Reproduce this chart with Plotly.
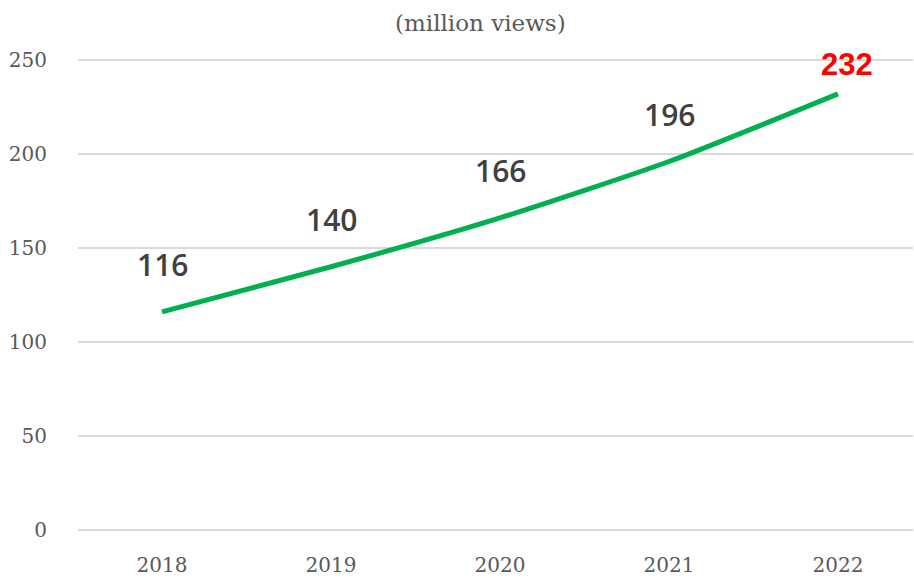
import plotly.graph_objects as go

years = ["2018", "2019", "2020", "2021", "2022"]
views = [116, 140, 166, 196, 232]
y_ticks = [0, 50, 100, 150, 200, 250]

xi = list(range(len(years)))

fig = go.Figure()
fig.add_trace(go.Scatter(
    x=xi, y=views, mode="lines",
    line=dict(color="#00B050", width=5, shape="spline", smoothing=0.6),
    hoverinfo="skip", showlegend=False,
))

for i, v in enumerate(views):
    last = i == len(views) - 1
    fig.add_annotation(
        x=i, y=v, xref="x", yref="y", text=str(v), showarrow=False,
        xshift=9 if last else 1, yshift=29 if last else 47,
        font=dict(family="Liberation Sans" if last else "Open Sans",
                  size=31 if last else 30,
                  color="#FF0000" if last else "#404040",
                  weight="bold" if last else 600),
    )

fig.add_annotation(
    x=(480 - 78) / 835, y=1 - 23 / 532, xref="paper", yref="paper",
    text="(million views)", showarrow=False, yanchor="middle",
    font=dict(family="DejaVu Serif", size=23, color="#595959"),
)

fig.update_layout(
    width=914, height=578,
    margin=dict(l=78, r=1, t=0, b=46, autoexpand=False),
    paper_bgcolor="white", plot_bgcolor="white",
    font=dict(family="DejaVu Serif", size=20, color="#595959"),
    xaxis=dict(
        range=[-0.497, 4.444], tickmode="array", tickvals=xi, ticktext=years,
        showgrid=False, zeroline=False, showline=False, automargin=False,
        ticks="outside", ticklen=15, tickcolor="rgba(0,0,0,0)",
        tickfont=dict(family="DejaVu Serif", size=20, color="#595959"),
    ),
    yaxis=dict(
        range=[-1.064, 281.9], tickmode="array", tickvals=y_ticks,
        showgrid=True, gridcolor="#D9D9D9", gridwidth=2,
        zeroline=False, showline=False, automargin=False,
        ticks="outside", ticklen=26, tickcolor="rgba(0,0,0,0)",
        tickfont=dict(family="DejaVu Serif", size=20, color="#595959"),
    ),
)
fig.write_html("out.html")
